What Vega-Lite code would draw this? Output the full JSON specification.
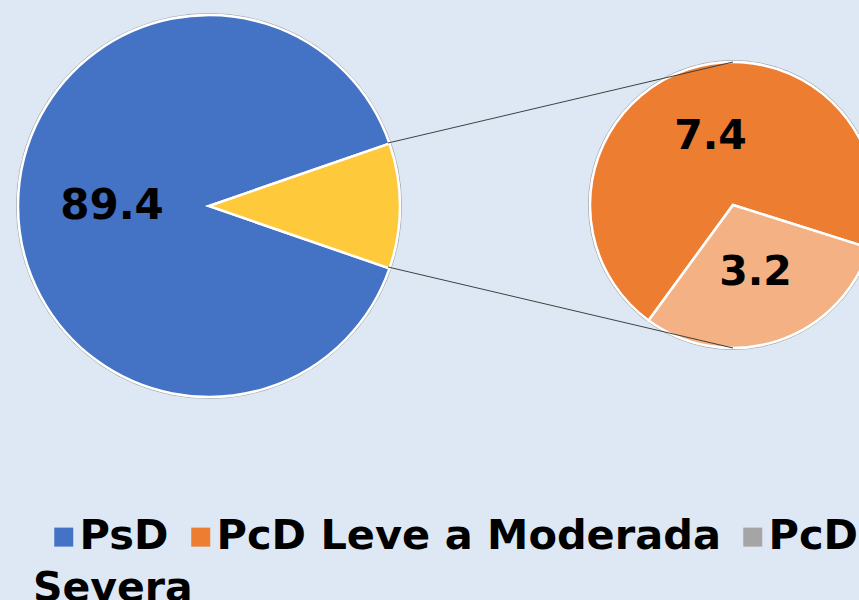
{
  "$schema": "https://vega.github.io/schema/vega-lite/v6.json",
  "width": 859,
  "height": 600,
  "padding": 0,
  "autosize": {"type": "none"},
  "background": "#DDE8F4",
  "config": {"view": {"stroke": null}},
  "datasets": {
    "big": [
      {"cat": "PsD", "value": 89.4},
      {"cat": "PcD", "value": 10.6}
    ],
    "small": [
      {"cat": "PcD Leve a Moderada", "value": 7.4},
      {"cat": "PcD Severa", "value": 3.2}
    ]
  },
  "layer": [
    {
      "data": {"values": [{}]},
      "mark": {"type": "arc", "x": 209, "y": 206, "outerRadius": 192.5, "theta": 0, "theta2": 6.2832, "fill": null, "stroke": "#A8A8A8", "strokeWidth": 1},
      "encoding": {}
    },
    {
      "data": {"values": [{}]},
      "mark": {"type": "arc", "x": 733, "y": 205, "outerRadius": 144.5, "theta": 0, "theta2": 6.2832, "fill": null, "stroke": "#A8A8A8", "strokeWidth": 1},
      "encoding": {}
    },
    {
      "data": {"name": "big"},
      "layer": [
        {
          "mark": {"type": "arc", "x": 209, "y": 206, "outerRadius": 191, "stroke": "white", "strokeWidth": 2.5},
          "encoding": {
            "theta": {"field": "value", "type": "quantitative", "stack": true, "scale": {"range": [1.2378, 7.521]}},
            "order": {"field": "cat", "sort": "ascending"},
            "color": {
              "field": "cat",
              "type": "nominal",
              "scale": {
                "domain": ["PsD", "PcD Leve a Moderada", "PcD Severa", "PcD"],
                "range": ["#4472C4", "#ED7D31", "#A5A5A5", "#FFC93C"]
              },
              "legend": {
                "orient": "none",
                "legendX": 33,
                "legendY": 516,
                "direction": "horizontal",
                "values": ["PsD", "PcD Leve a Moderada", "PcD Severa"],
                "labelExpr": "datum.label == 'PcD Severa' ? 'PcD' : datum.label",
                "title": "Severa",
                "titleOrient": "bottom",
                "titleAnchor": "start",
                "titleFont": "DejaVu Sans",
                "titleFontSize": 41,
                "titleFontWeight": "bold",
                "titleColor": "black",
                "titlePadding": 11,
                "titleLimit": 0,
                "labelFont": "DejaVu Sans",
                "labelFontSize": 41.5,
                "labelFontWeight": "bold",
                "labelColor": "black",
                "labelLimit": 0,
                "labelOffset": -5,
                "columnPadding": 1,
                "symbolType": "square",
                "symbolSize": 361,
                "symbolStrokeWidth": 0,
                "symbolOpacity": 1,
                "symbolOffset": 10
              }
            }
          }
        },
        {
          "mark": {"type": "text", "x": 209, "y": 206, "radius": 97, "font": "DejaVu Sans", "fontWeight": "bold", "fontSize": 42, "color": "black", "align": "center", "baseline": "middle"},
          "encoding": {
            "theta": {"field": "value", "type": "quantitative", "stack": true},
            "order": {"field": "cat", "sort": "ascending"},
            "text": {"condition": {"test": "datum.cat === 'PcD'", "value": ""}, "field": "value", "format": ".1f"}
          }
        }
      ]
    },
    {
      "data": {"name": "small"},
      "layer": [
        {
          "mark": {"type": "arc", "x": 733, "y": 205, "outerRadius": 143, "stroke": "white", "strokeWidth": 2.5},
          "encoding": {
            "theta": {"field": "value", "type": "quantitative", "stack": true, "scale": {"range": [3.773, 10.056]}},
            "order": {"field": "cat", "sort": "ascending"},
            "color": {
              "condition": {"test": "datum.cat === 'PcD Severa'", "value": "#F4B183"},
              "field": "cat",
              "type": "nominal",
              "scale": {
                "domain": ["PsD", "PcD Leve a Moderada", "PcD Severa", "PcD"],
                "range": ["#4472C4", "#ED7D31", "#A5A5A5", "#FFC93C"]
              }
            }
          }
        },
        {
          "mark": {"type": "text", "x": 733, "y": 205, "radius": 72, "font": "DejaVu Sans", "fontWeight": "bold", "fontSize": 41, "color": "black", "align": "center", "baseline": "middle"},
          "encoding": {
            "theta": {"field": "value", "type": "quantitative", "stack": true},
            "order": {"field": "cat", "sort": "ascending"},
            "text": {"field": "value", "type": "quantitative", "format": ".1f"}
          }
        }
      ]
    },
    {
      "data": {"values": [{}]},
      "mark": {"type": "rule", "stroke": "#404040", "strokeWidth": 1},
      "encoding": {"x": {"value": 388}, "y": {"value": 143}, "x2": {"value": 733}, "y2": {"value": 62}}
    },
    {
      "data": {"values": [{}]},
      "mark": {"type": "rule", "stroke": "#404040", "strokeWidth": 1},
      "encoding": {"x": {"value": 388}, "y": {"value": 267}, "x2": {"value": 733}, "y2": {"value": 348}}
    }
  ],
  "resolve": {"scale": {"theta": "independent"}}
}
